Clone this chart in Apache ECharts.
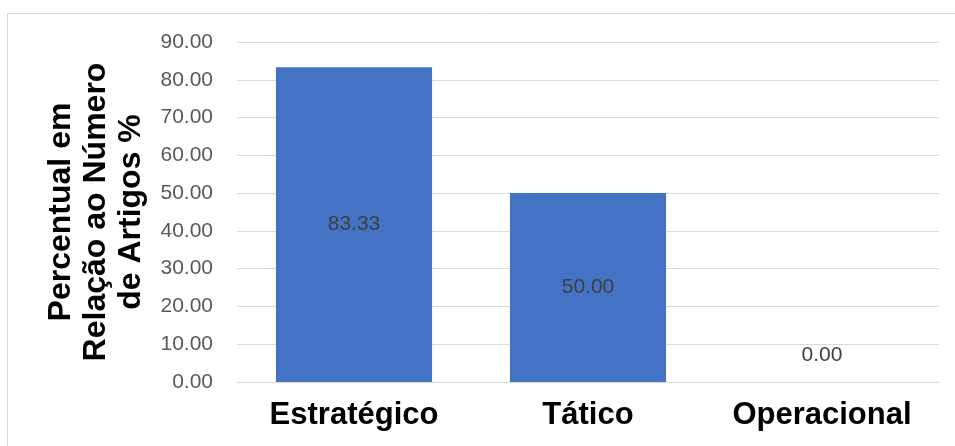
<!DOCTYPE html>
<html>
<head>
<meta charset="utf-8">
<script src="https://cdn.jsdelivr.net/npm/echarts@6/dist/echarts.min.js"></script>
<style>
html,body{margin:0;padding:0;background:#fff;}
#chart{width:955px;height:446px;}
</style>
</head>
<body>
<div id="chart"></div>
<script>
const categories = ['Estratégico', 'Tático', 'Operacional'];
const values = [83.33, 50.00, 0.00];
const yTicks = { min: 0, max: 90, interval: 10 };
const yTitle = 'Percentual em\nRelação ao Número\nde Artigos %';

const FONT = '"Liberation Sans", Arial, sans-serif';
const chart = echarts.init(document.getElementById('chart'));
const seriesData = values.map(v => v === 0
  ? { value: v, label: { position: 'top', distance: 16 } }
  : { value: v });

chart.setOption({
  animation: false,
  graphic: [{
    type: 'rect',
    shape: { x: 7.5, y: 13.5, width: 960, height: 450 },
    style: { fill: 'none', stroke: '#d9d9d9', lineWidth: 1 },
    silent: true
  }, {
    type: 'text',
    x: 96,
    y: 212,
    rotation: Math.PI / 2,
    silent: true,
    style: {
      text: yTitle,
      fontFamily: FONT,
      fontWeight: 'bold',
      fontSize: 32,
      fill: '#000',
      align: 'center',
      verticalAlign: 'middle',
      lineHeight: 35
    }
  }],
  grid: { left: 237, right: 16, top: 42, bottom: 64, containLabel: false },
  xAxis: {
    type: 'category',
    data: categories,
    axisLine: { lineStyle: { color: '#d9d9d9', width: 1 } },
    axisTick: { show: false },
    axisLabel: {
      color: '#000',
      fontFamily: FONT,
      fontWeight: 'bold',
      fontSize: 31,
      margin: 18
    }
  },
  yAxis: {
    type: 'value',
    min: yTicks.min, max: yTicks.max, interval: yTicks.interval,
    axisLine: { show: false },
    axisTick: { show: false },
    splitLine: { lineStyle: { color: '#d9d9d9', width: 1 } },
    axisLabel: {
      color: '#595959',
      fontFamily: FONT,
      fontSize: 21,
      margin: 24,
      formatter: v => v.toFixed(2)
    }
  },
  series: [{
    type: 'bar',
    data: seriesData,
    barWidth: '66.7%',
    itemStyle: { color: '#4472C4' },
    label: {
      show: true,
      position: 'inside',
      color: '#404040',
      fontFamily: FONT,
      fontSize: 21,
      formatter: p => Number(p.value).toFixed(2)
    }
  }]
});
</script>
</body>
</html>
